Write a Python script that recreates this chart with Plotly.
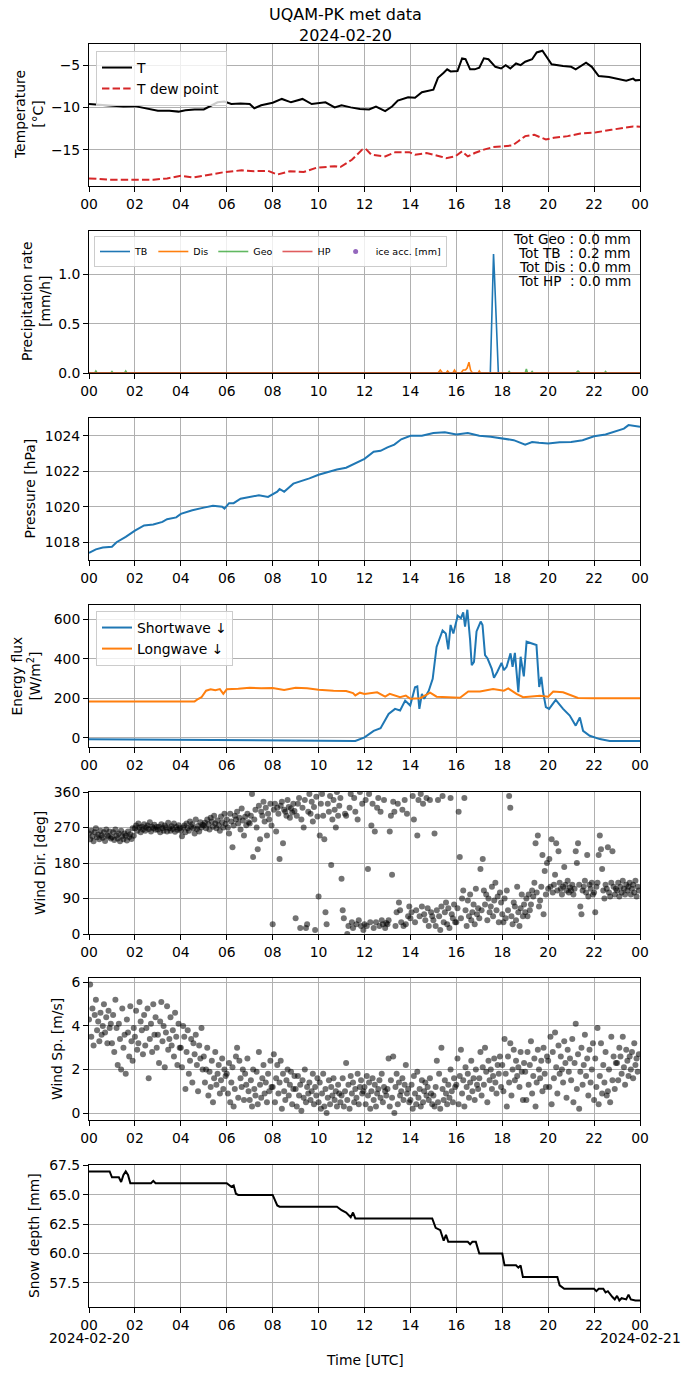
import plotly.graph_objects as go
import pandas as pd
from datetime import datetime, timedelta

BASE = datetime(2024, 2, 20)

# ---------------- data ----------------
t_hours = [0, 0.5, 1.0, 1.5, 2.0, 2.5, 3.0, 3.5, 3.9, 4.2, 4.6, 5.0, 5.3, 5.6, 5.9, 6.2, 6.6, 7.0, 7.2, 7.5,
           8.0, 8.4, 8.8, 9.3, 9.7, 10.0, 10.3, 10.7, 11.0, 11.4, 11.8, 12.2, 12.5, 12.9, 13.2, 13.45, 13.9,
           14.2, 14.5, 15.0, 15.2, 15.45, 15.6, 15.75, 16.05, 16.25, 16.4, 16.6, 16.8, 17.0, 17.2, 17.4, 17.7,
           17.95, 18.15, 18.35, 18.6, 18.8, 19.0, 19.3, 19.5, 19.75, 20.15, 20.65, 21.0, 21.2, 21.65, 21.9,
           22.2, 22.65, 23.15, 23.4, 23.7, 23.8, 24.0]
temp = [-9.6, -9.7, -9.8, -9.9, -9.85, -10.1, -10.4, -10.4, -10.5, -10.35, -10.25, -10.25, -9.8, -9.4, -9.3,
        -9.6, -9.55, -9.6, -10.1, -9.75, -9.45, -9.0, -9.4, -9.0, -9.6, -9.5, -9.4, -10.0, -9.75, -10.0, -10.2,
        -10.25, -9.9, -10.45, -9.9, -9.2, -8.8, -8.85, -8.2, -7.9, -6.5, -5.9, -5.5, -5.75, -5.7, -4.2, -4.3,
        -5.5, -5.5, -5.3, -4.2, -4.3, -5.2, -5.4, -5.0, -5.4, -4.8, -5.0, -4.6, -4.3, -3.5, -3.3, -4.9, -5.1,
        -5.2, -5.5, -4.7, -5.2, -6.3, -6.4, -6.7, -6.85, -6.6, -6.8, -6.75]

td_hours = [0, 0.9, 2.05, 2.8, 3.4, 4.0, 4.55, 5.1, 5.9, 6.65, 7.2, 7.8, 8.2, 8.75, 9.35, 9.9, 10.7, 10.95,
            11.45, 11.9, 12.05, 12.3, 12.9, 13.35, 13.95, 14.2, 14.7, 15.3, 15.55, 15.95, 16.25, 16.5, 16.8,
            17.2, 17.6, 18.05, 18.45, 18.7, 19.0, 19.4, 19.9, 20.25, 20.85, 21.4, 22.1, 22.75, 23.3, 23.7, 24.0]
tdew = [-18.4, -18.55, -18.55, -18.55, -18.4, -18.1, -18.3, -18.0, -17.65, -17.45, -17.55, -17.5, -17.95,
        -17.55, -17.65, -17.15, -16.95, -17.05, -16.2, -15.0, -14.9, -15.6, -15.8, -15.3, -15.3, -15.6, -15.4,
        -15.8, -16.0, -15.8, -15.2, -15.8, -15.4, -15.0, -14.7, -14.6, -14.5, -14.0, -13.4, -13.25, -13.8,
        -13.6, -13.4, -13.1, -12.95, -12.65, -12.45, -12.25, -12.3]

tb_hours = [0, 17.48, 17.55, 17.62, 17.66, 17.72, 17.83, 24]
tb_rate = [0, 0, 0.6, 1.21, 1.0, 0.6, 0, 0]
dis_hours = [0, 15.2, 15.3, 15.4, 15.55, 15.62, 15.7, 15.85, 15.92, 16.0, 16.2, 16.3, 16.4, 16.47, 16.55,
             16.62, 16.7, 16.95, 17.0, 17.05, 24]
dis_rate = [0, 0, 0.03, 0, 0, 0.02, 0, 0, 0.03, 0, 0, 0.03, 0.03, 0.05, 0.11, 0.03, 0, 0, 0.02, 0, 0]
geo_hours = [0, 0.25, 0.3, 0.35, 0.95, 1.0, 1.05, 1.55, 1.6, 1.65, 18.25, 18.3, 18.35, 19.0, 19.05, 19.1,
             19.25, 19.3, 19.35, 21.2, 21.3, 21.4, 22.45, 22.5, 22.55, 24]
geo_rate = [0, 0, 0.02, 0, 0, 0.015, 0, 0, 0.02, 0, 0, 0.015, 0, 0, 0.04, 0, 0, 0.015, 0, 0, 0.02, 0, 0,
            0.015, 0, 0]
hp_hours = [0, 24]
hp_rate = [0, 0]
precip_totals = ["Tot Geo : 0.0 mm", "Tot TB\u00a0\u00a0: 0.2 mm", "Tot Dis : 0.0 mm", "Tot HP\u00a0\u00a0: 0.0 mm"]

p_hours = [0, 0.3, 0.6, 1.0, 1.2, 1.6, 2.0, 2.4, 2.8, 3.2, 3.4, 3.8, 4.0, 4.5, 5.0, 5.4, 5.8, 5.9, 6.1, 6.3,
           6.6, 7.0, 7.4, 7.8, 8.2, 8.3, 8.5, 8.9, 9.3, 9.6, 10.0, 10.4, 10.8, 11.2, 11.5, 12.0, 12.4, 12.7,
           13.0, 13.3, 13.6, 14.0, 14.5, 15.0, 15.5, 16.0, 16.5, 17.0, 17.5, 18.0, 18.5, 19.0, 19.3, 19.6,
           20.0, 20.5, 21.0, 21.5, 22.0, 22.5, 23.0, 23.3, 23.5, 23.8, 24.0]
pressure = [1017.4, 1017.6, 1017.7, 1017.75, 1018.0, 1018.3, 1018.65, 1018.95, 1019.0, 1019.15, 1019.3,
            1019.4, 1019.6, 1019.8, 1019.95, 1020.05, 1020.0, 1019.9, 1020.2, 1020.2, 1020.45, 1020.55,
            1020.65, 1020.55, 1020.85, 1021.0, 1020.85, 1021.3, 1021.45, 1021.6, 1021.8, 1021.95, 1022.1,
            1022.2, 1022.4, 1022.7, 1023.1, 1023.15, 1023.35, 1023.5, 1023.8, 1024.0, 1024.0, 1024.15,
            1024.2, 1024.07, 1024.15, 1024.0, 1023.95, 1023.85, 1023.75, 1023.5, 1023.65, 1023.6, 1023.57,
            1023.63, 1023.65, 1023.75, 1023.97, 1024.07, 1024.28, 1024.4, 1024.6, 1024.55, 1024.5]

sw_hours = [0, 2, 4, 6, 8, 10, 11.6, 12.0, 12.4, 12.7, 12.8, 13.05, 13.33, 13.55, 13.77, 13.99, 14.2, 14.3,
            14.39, 14.5, 14.6, 14.8, 14.97, 15.14, 15.4, 15.54, 15.65, 15.75, 15.87, 16.06, 16.2, 16.3,
            16.38, 16.48, 16.6, 16.67, 16.77, 16.88, 17.06, 17.14, 17.25, 17.36, 17.54, 17.64, 17.78, 17.97,
            18.07, 18.19, 18.36, 18.45, 18.55, 18.7, 18.8, 18.94, 19.06, 19.28, 19.49, 19.61, 19.7, 19.78,
            19.9, 20.04, 20.33, 20.65, 20.94, 21.2, 21.38, 21.52, 21.81, 22.25, 22.68, 24]
shortwave = [-8, -9, -11, -13, -15, -16, -16, 2, 35, 48, 68, 120, 146, 138, 188, 163, 256, 260, 146, 222, 197,
             238, 298, 460, 543, 528, 447, 571, 528, 618, 605, 635, 563, 648, 495, 367, 384, 538, 588, 571,
             418, 401, 350, 304, 333, 379, 342, 359, 427, 359, 430, 231, 410, 311, 486, 478, 469, 257, 308,
             231, 155, 146, 192, 146, 112, 61, 103, 35, 10, -7, -16, -16]
lw_hours = [0, 2, 4, 4.6, 4.75, 4.9, 5.1, 5.3, 5.5, 5.7, 5.85, 6.0, 6.5, 7.0, 7.5, 8.0, 8.5, 9.0, 9.5, 10.0,
            10.65, 11.2, 11.5, 11.6, 11.8, 12.0, 12.55, 12.9, 13.1, 13.55, 13.8, 14.0, 14.43, 14.86, 15.14,
            15.58, 16.16, 16.52, 17.03, 17.6, 18.07, 18.26, 18.62, 18.91, 19.64, 20.0, 20.22, 20.65, 21.01,
            21.3, 22, 24]
longwave = [183, 182, 182, 184, 196, 205, 238, 245, 240, 246, 222, 245, 248, 253, 250, 252, 242, 253, 250,
            243, 238, 236, 226, 214, 228, 222, 230, 208, 222, 205, 213, 197, 200, 228, 208, 205, 202, 234,
            234, 246, 238, 250, 222, 205, 213, 208, 234, 230, 213, 201, 200, 200]

# 3-minute samples, one row per hour (20 values each)
wind_dir = [
    255, 240, 262, 248, 235, 258, 268, 245, 252, 240, 262, 250, 244, 258, 236, 265, 250, 247, 260, 242,
    245, 258, 238, 265, 250, 242, 255, 235, 262, 248, 240, 255, 250, 237, 260, 246, 253, 241, 268, 249,
    268, 275, 262, 280, 270, 258, 272, 265, 278, 262, 270, 275, 266, 283, 260, 272, 268, 277, 264, 271,
    265, 272, 258, 278, 268, 262, 275, 270, 260, 282, 268, 262, 273, 266, 280, 259, 271, 264, 276, 268,
    262, 248, 270, 275, 258, 280, 268, 262, 285, 272, 278, 268, 255, 290, 266, 274, 260, 283, 270, 277,
    275, 282, 268, 290, 278, 265, 295, 285, 272, 300, 280, 268, 288, 276, 262, 298, 283, 270, 305, 279,
    290, 270, 255, 305, 285, 220, 275, 300, 290, 310, 280, 295, 265, 318, 288, 250, 297, 276, 305, 283,
    280, 300, 355, 195, 290, 315, 270, 215, 325, 240, 310, 300, 335, 285, 320, 250, 305, 290, 330, 275,
    25, 315, 330, 260, 320, 305, 190, 325, 335, 230, 315, 310, 300, 340, 322, 295, 318, 308, 330, 312,
    40, 300, 330, 345, 15, 290, 320, 270, 340, 15, 25, 310, 355, 305, 335, 285, 322, 10, 348, 298,
    95, 250, 330, 355, 300, 240, 55, 25, 330, 310, 350, 175, 290, 340, 315, 270, 360, 300, 325, 345,
    140, 60, 40, 305, 300, 0, 20, 320, 355, 30, 15, 345, 310, 25, 290, 35, 360, 20, 330, 10,
    25, 340, 20, 165, 355, 30, 275, 330, 15, 260, 30, 320, 345, 20, 310, 35, 25, 340, 15, 28,
    25, 35, 260, 300, 150, 335, 310, 20, 55, 330, 80, 60, 30, 315, 20, 340, 25, 305, 45, 70,
    40, 55, 350, 290, 30, 60, 250, 340, 45, 355, 70, 330, 50, 35, 345, 65, 20, 340, 55, 45,
    35, 255, 20, 60, 340, 45, 10, 70, 350, 30, 55, 80, 25, 65, 15, 345, 50, 40, 75, 30,
    30, 65, 310, 195, 40, 90, 110, 345, 60, 20, 85, 45, 100, 35, 55, 75, 25, 115, 50, 65,
    40, 165, 60, 190, 110, 75, 100, 35, 90, 55, 70, 120, 45, 85, 130, 60, 95, 30, 105, 80,
    50, 30, 90, 40, 110, 60, 350, 320, 45, 25, 80, 70, 35, 120, 55, 20, 65, 100, 45, 75,
    55, 90, 45, 100, 60, 75, 110, 95, 130, 230, 105, 250, 70, 85, 120, 200, 50, 160, 100, 180,
    115, 190, 120, 240, 105, 125, 150, 230, 110, 210, 130, 115, 100, 120, 170, 125, 110, 135, 105, 118,
    110, 125, 100, 115, 210, 180, 230, 125, 70, 50, 110, 120, 135, 105, 200, 95, 125, 115, 130, 100,
    105, 55, 120, 130, 200, 250, 215, 165, 110, 90, 125, 115, 220, 105, 95, 130, 210, 120, 100, 115,
    110, 130, 95, 120, 105, 135, 115, 100, 125, 110, 120, 130, 100, 115, 125, 105, 135, 95, 120, 110,
]
wind_speed = [
    4.3, 5.9, 3.5, 4.8, 3.1, 4.5, 5.2, 3.8, 4.2, 3.3, 4.6, 3.6, 4.0, 5.0, 3.7, 4.4, 3.2, 4.7, 3.9, 4.1,
    3.2, 4.5, 2.8, 5.2, 3.9, 2.2, 4.1, 3.4, 2.0, 4.8, 3.0, 3.6, 1.8, 4.3, 3.7, 2.6, 4.9, 3.3, 2.4, 3.9,
    3.5, 4.7, 2.9, 3.2, 5.1, 4.2, 3.8, 2.7, 4.5, 3.1, 3.9, 4.8, 1.6, 3.4, 4.1, 2.8, 5.0, 3.6, 4.4, 3.0,
    3.6, 2.3, 4.2, 5.1, 3.3, 4.0, 2.1, 3.7, 4.9, 2.9, 3.4, 4.4, 3.1, 3.8, 2.6, 4.6, 3.5, 2.2, 4.1, 3.0,
    3.0, 2.1, 4.0, 3.5, 1.1, 2.8, 3.8, 1.8, 2.4, 3.4, 1.4, 3.2, 2.7, 3.6, 2.2, 1.0, 3.1, 2.5, 3.9, 2.0,
    2.6, 1.4, 2.0, 3.0, 0.8, 1.9, 1.2, 2.4, 0.5, 1.6, 2.8, 1.3, 1.8, 2.2, 0.9, 1.5, 2.5, 1.1, 2.0, 1.7,
    1.8, 0.9, 2.3, 0.5, 1.4, 2.1, 0.3, 1.1, 2.6, 3.0, 0.7, 2.4, 1.6, 1.2, 2.0, 0.6, 1.8, 1.3, 2.5, 1.0,
    0.6, 1.5, 0.3, 2.0, 1.1, 0.8, 1.9, 0.4, 2.8, 1.3, 0.7, 1.6, 2.2, 0.9, 1.4, 0.5, 1.8, 1.0, 2.4, 1.2,
    1.2, 2.7, 0.5, 1.6, 2.2, 0.9, 1.4, 2.4, 0.2, 1.8, 1.0, 0.6, 1.5, 2.0, 0.8, 1.3, 1.9, 0.4, 1.1, 1.7,
    1.1, 0.3, 1.7, 0.8, 1.3, 0.1, 1.5, 0.7, 2.0, 0.5, 1.2, 0.9, 1.4, 0.6, 1.0, 1.8, 0.4, 1.2, 0.8, 1.6,
    0.5, 1.4, 0.2, 0.9, 1.8, 0.3, 1.1, 0.0, 0.7, 1.5, 0.4, 1.2, 0.8, 1.6, 0.6, 1.0, 0.3, 1.3, 0.9, 0.5,
    0.8, 1.6, 0.3, 1.0, 2.3, 0.6, 1.3, 0.2, 1.7, 0.9, 1.4, 0.5, 1.1, 0.7, 1.8, 0.4, 1.2, 1.5, 0.9, 1.0,
    1.2, 0.4, 1.7, 0.8, 1.4, 0.2, 1.0, 1.6, 0.6, 1.3, 0.3, 0.9, 1.1, 1.5, 0.7, 1.8, 0.5, 1.2, 1.0, 0.8,
    1.1, 2.5, 0.3, 1.5, 0.7, 2.6, 0.0, 1.2, 1.8, 0.4, 1.4, 0.8, 1.0, 1.6, 0.6, 1.3, 2.2, 0.9, 1.1, 0.5,
    0.6, 1.3, 0.2, 1.7, 0.9, 0.4, 1.9, 0.7, 1.1, 0.3, 1.5, 0.5, 1.0, 1.4, 0.8, 1.2, 0.6, 1.6, 0.9, 0.4,
    0.8, 0.3, 1.2, 2.4, 0.5, 1.8, 0.2, 3.0, 1.1, 0.6, 1.5, 0.9, 0.4, 1.3, 0.7, 2.0, 1.0, 0.5, 1.6, 1.2,
    1.3, 2.5, 0.4, 1.7, 2.9, 0.9, 1.5, 0.3, 2.1, 1.2, 1.8, 0.7, 1.4, 2.4, 1.0, 1.6, 0.6, 2.0, 1.3, 1.1,
    1.6, 2.8, 0.8, 2.1, 1.3, 3.0, 1.9, 0.5, 2.4, 1.5, 2.0, 1.1, 1.7, 2.5, 1.4, 0.9, 2.2, 1.8, 2.6, 1.2,
    2.2, 1.0, 3.4, 1.8, 0.3, 2.6, 1.4, 3.2, 0.8, 2.0, 2.9, 1.5, 2.4, 1.7, 2.1, 1.2, 2.8, 1.9, 0.6, 2.3,
    1.9, 0.6, 2.8, 1.3, 2.2, 3.3, 0.9, 1.7, 2.5, 0.3, 1.4, 2.9, 2.0, 1.6, 2.4, 1.0, 3.0, 1.8, 1.2, 2.6,
    2.4, 1.2, 3.5, 0.4, 2.8, 1.6, 3.7, 2.1, 0.9, 3.1, 1.8, 2.6, 2.0, 1.4, 3.3, 2.3, 0.7, 2.9, 1.9, 2.5,
    1.5, 3.4, 0.5, 2.3, 4.1, 1.1, 2.7, 0.2, 1.9, 3.0, 1.3, 2.2, 3.6, 1.7, 2.5, 0.8, 2.9, 1.4, 2.0, 3.2,
    0.6, 2.5, 1.2, 3.9, 0.4, 1.7, 3.2, 0.9, 2.2, 1.4, 2.8, 0.8, 1.0, 2.0, 0.5, 3.5, 1.5, 2.6, 1.1, 2.3,
    2.3, 1.5, 3.0, 2.6, 1.8, 3.5, 2.1, 1.3, 2.9, 2.4, 1.7, 2.6, 2.0, 2.8, 1.6, 3.2, 2.2, 2.5, 1.9, 2.7,
]

snow_hours = [0, 0.9, 1.0, 1.3, 1.4, 1.5, 1.6, 1.7, 1.8, 2.7, 2.8, 2.9, 6.0, 6.2, 6.3, 6.4, 6.5, 8.0, 8.2,
              8.3, 10.8, 11.0, 11.2, 11.4, 11.5, 11.6, 14.95, 15.1, 15.3, 15.45, 15.55, 15.65, 16.5, 16.6,
              16.7, 16.85, 17.0, 18.0, 18.1, 18.6, 18.7, 18.8, 18.9, 20.4, 20.5, 20.7, 22.0, 22.1, 22.2, 22.4,
              22.5, 22.6, 22.8, 22.9, 23.0, 23.1, 23.2, 23.4, 23.5, 23.6, 23.8, 24.0]
snow_depth = [67, 67, 66.5, 66.5, 66.1, 66.7, 67, 66.7, 66, 66, 66.2, 66, 66, 65.7, 65.8, 65.1, 65, 65, 64.1,
              64, 64, 63.7, 63.5, 63.1, 63.5, 63, 63, 62.2, 62, 61.1, 61.6, 61, 61, 60.8, 61, 61, 60, 60, 59,
              59, 58.8, 59, 58, 58, 57.3, 57, 57, 56.8, 57, 57, 56.7, 56.8, 56.3, 56.1, 56.4, 56, 56.2, 56.1,
              56.5, 56.1, 56, 56]

tick_hours = list(range(0, 25, 2))
tick_labels = ["00", "02", "04", "06", "08", "10", "12", "14", "16", "18", "20", "22", "00"]
date_labels = ["2024-02-20", "2024-02-21"]

# ---------------- helpers ----------------
def to_time(hours):
    return [BASE + timedelta(hours=float(h)) for h in hours]

W, H = 690, 1377
L, R = 89, 640
PW = R - L
PH = 142
tops = [44, 231, 418, 605, 792, 978, 1165]
FONT = "DejaVu Sans"
FS = 13.9
blue, orange, red, purple = "#1f77b4", "#ff7f0e", "#d62728", "#9467bd"

def px_x(px):
    return (px - L) / PW

def px_y(py):
    return 1 - py / H

fig = go.Figure()

def add(trace, i):
    trace.update(xaxis="x" if i == 1 else f"x{i}", yaxis="y" if i == 1 else f"y{i}")
    fig.add_trace(trace)

# panel 1
add(go.Scatter(x=to_time(t_hours), y=temp, mode="lines", name="T",
               line=dict(color="black", width=2), legend="legend"), 1)
add(go.Scatter(x=to_time(td_hours), y=tdew, mode="lines", name="T dew point",
               line=dict(color=red, width=2, dash="7.4px,3.2px"), legend="legend"), 1)

# panel 2
add(go.Scatter(x=to_time(tb_hours), y=tb_rate, mode="lines", name="TB",
               line=dict(color=blue, width=1.6), legend="legend2"), 2)
add(go.Scatter(x=to_time(dis_hours), y=dis_rate, mode="lines", name="Dis",
               line=dict(color=orange, width=1.6), legend="legend2"), 2)
add(go.Scatter(x=to_time(geo_hours), y=geo_rate, mode="lines", name="Geo",
               line=dict(color="rgba(44,160,44,0.75)", width=1.6), legend="legend2"), 2)
add(go.Scatter(x=to_time(hp_hours), y=hp_rate, mode="lines", name="HP",
               line=dict(color="rgba(214,39,40,0.75)", width=1.6), legend="legend2"), 2)
add(go.Scatter(x=to_time([12]), y=[None], mode="markers", name="ice acc. [mm]",
               marker=dict(color=purple, size=5), legend="legend2"), 2)

# panel 3
add(go.Scatter(x=to_time(p_hours), y=pressure, mode="lines", showlegend=False,
               line=dict(color=blue, width=2)), 3)

# panel 4
add(go.Scatter(x=to_time(sw_hours), y=shortwave, mode="lines", name="Shortwave \u2193",
               line=dict(color=blue, width=2), legend="legend3"), 4)
add(go.Scatter(x=to_time(lw_hours), y=longwave, mode="lines", name="Longwave \u2193",
               line=dict(color=orange, width=2), legend="legend3"), 4)

# panels 5, 6
wind_times = pd.date_range("2024-02-20 00:00", periods=len(wind_dir), freq="3min")
add(go.Scatter(x=wind_times, y=wind_dir, mode="markers", showlegend=False,
               marker=dict(color="black", size=6, opacity=0.55, line=dict(width=0))), 5)
add(go.Scatter(x=wind_times, y=wind_speed, mode="markers", showlegend=False,
               marker=dict(color="black", size=6, opacity=0.55, line=dict(width=0))), 6)

# panel 7
add(go.Scatter(x=to_time(snow_hours), y=snow_depth, mode="lines", showlegend=False,
               line=dict(color="black", width=2)), 7)

# ---------------- axes ----------------
tickvals = to_time(tick_hours)
x_range = ["2024-02-20 00:00:00", "2024-02-21 00:00:00"]
axis_common = dict(showline=True, mirror=True, linecolor="black", linewidth=1, ticks="outside", ticklen=5,
                   tickcolor="black", showgrid=True, gridcolor="#b0b0b0", gridwidth=1, zeroline=False,
                   automargin=False, tickfont=dict(family=FONT, size=FS, color="black"))

y_specs = [
    dict(range=[-19.3, -2.5], tickvals=[-15, -10, -5]),
    dict(range=[0, 1.443], tickvals=[0, 0.5, 1.0], tickformat=".1f"),
    dict(range=[1017.0, 1025.0], tickvals=[1018, 1020, 1022, 1024]),
    dict(range=[-47, 672], tickvals=[0, 200, 400, 600]),
    dict(range=[0, 360], tickvals=[0, 90, 180, 270, 360]),
    dict(range=[-0.32, 6.2], tickvals=[0, 2, 4, 6]),
    dict(range=[55.45, 67.55], tickvals=[57.5, 60, 62.5, 65, 67.5], tickformat=".1f"),
]

layout = dict(width=W, height=H, autosize=False,
              margin=dict(l=L, r=W - R, t=0, b=0, pad=0, autoexpand=False),
              plot_bgcolor="white", paper_bgcolor="white", font=dict(family=FONT, size=FS, color="black"))
for i in range(1, 8):
    top = tops[i - 1]
    dom = [px_y(top + PH), px_y(top)]
    xa = dict(axis_common, domain=[0, 1], range=x_range, type="date", tickvals=tickvals,
              ticktext=tick_labels, tickangle=0, anchor="y" if i == 1 else f"y{i}")
    ya = dict(axis_common, domain=dom, anchor="x" if i == 1 else f"x{i}", **y_specs[i - 1])
    layout["xaxis" if i == 1 else f"xaxis{i}"] = xa
    layout["yaxis" if i == 1 else f"yaxis{i}"] = ya

legend_box = dict(bgcolor="rgba(255,255,255,0.8)", bordercolor="#cccccc", borderwidth=1,
                  xanchor="left", yanchor="top", tracegroupgap=0)
layout["legend"] = dict(legend_box, x=px_x(96), y=px_y(51), font=dict(family=FONT, size=FS))
layout["legend2"] = dict(legend_box, x=px_x(94), y=px_y(236), orientation="h", itemwidth=30,
                         font=dict(family=FONT, size=9.5))
layout["legend3"] = dict(legend_box, x=px_x(96), y=px_y(611), font=dict(family=FONT, size=FS))

annotations = [
    dict(text="UQAM-PK met data<br>2024-02-20", x=px_x(345), y=px_y(25), size=16),
    dict(text=date_labels[0], x=px_x(89), y=px_y(1338), size=FS),
    dict(text=date_labels[1], x=px_x(640), y=px_y(1338), size=FS),
    dict(text="Time [UTC]", x=px_x(364.5), y=px_y(1360), size=FS),
]
for a in annotations:
    sz = a.pop("size")
    a.update(xref="paper", yref="paper", showarrow=False, xanchor="center", yanchor="middle",
             font=dict(family=FONT, size=sz, color="black"))

for k, line in enumerate(precip_totals):
    annotations.append(dict(text=line, xref="paper", yref="paper", x=px_x(633), y=px_y(239 + 14 * k),
                            xanchor="right", yanchor="middle", showarrow=False,
                            font=dict(family=FONT, size=13.6, color="black")))

y_titles = [
    ("Temperature<br>[°C]", 29),
    ("Precipitation rate<br>[mm/h]", 36),
    ("Pressure [hPa]", 29.5),
    ("Energy flux<br>[W/m<sup>2</sup>]", 25.5),
    ("Wind Dir. [deg]", 40),
    ("Wind Sp. [m/s]", 57),
    ("Snow depth [mm]", 34),
]
for (txt, cx), top in zip(y_titles, tops):
    annotations.append(dict(text=txt, xref="paper", yref="paper", x=px_x(cx), y=px_y(top + PH / 2),
                            xanchor="center", yanchor="middle", textangle=-90, showarrow=False,
                            font=dict(family=FONT, size=FS, color="black")))
layout["annotations"] = annotations

fig.update_layout(**layout)
fig.write_html("out.html", config={"displayModeBar": False},
               post_script="document.body.style.margin='0px';document.body.style.overflow='hidden';"
                           "document.documentElement.style.overflow='hidden';")
